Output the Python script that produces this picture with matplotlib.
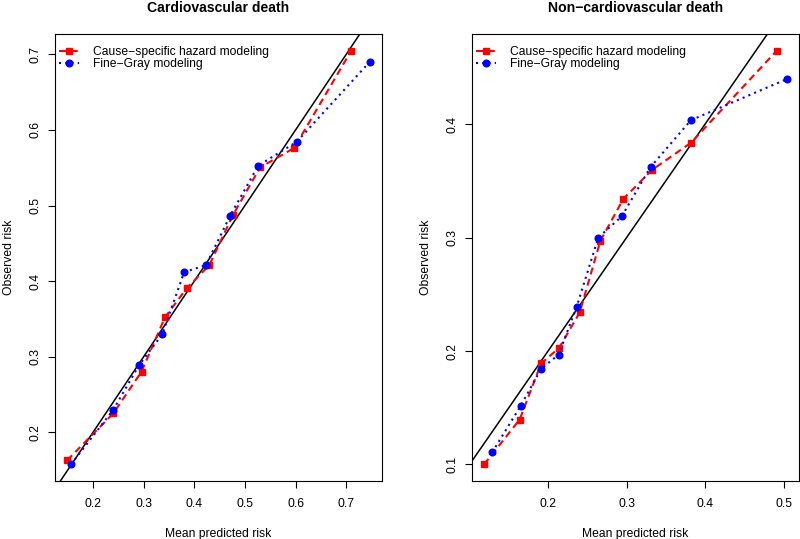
import matplotlib
matplotlib.use("Agg")
import matplotlib.pyplot as plt
import numpy as np

plt.rcParams['font.family'] = ['Liberation Sans', 'DejaVu Sans']

# Cardiovascular death
cv_cs_x = [0.149, 0.240, 0.296, 0.342, 0.3855, 0.4295, 0.476, 0.530, 0.597, 0.710]
cv_cs_y = [0.163, 0.225, 0.2805, 0.352, 0.391, 0.421, 0.487, 0.5505, 0.576, 0.705]
cv_fg_x = [0.1566, 0.240, 0.2914, 0.3368, 0.380, 0.423, 0.4704, 0.5262, 0.6026, 0.7467]
cv_fg_y = [0.1576, 0.2297, 0.2894, 0.3296, 0.412, 0.421, 0.486, 0.5527, 0.5845, 0.6903]

# Non-cardiovascular death
ncv_cs_x = [0.1185, 0.1638, 0.1911, 0.214, 0.2403, 0.2666, 0.2959, 0.3324, 0.3824, 0.4915]
ncv_cs_y = [0.100, 0.1396, 0.189, 0.2027, 0.234, 0.297, 0.3342, 0.3596, 0.3838, 0.4649]
ncv_fg_x = [0.1287, 0.1651, 0.1911, 0.2135, 0.2364, 0.264, 0.2937, 0.3306, 0.382, 0.5043]
ncv_fg_y = [0.1106, 0.1516, 0.1844, 0.1968, 0.239, 0.300, 0.3186, 0.3622, 0.4035, 0.4398]

titles = ["Cardiovascular death", "Non\u2212cardiovascular death"]
legend_labels = ["Cause\u2212specific hazard modeling", "Fine\u2212Gray modeling"]
xticks_list = [[0.2, 0.3, 0.4, 0.5, 0.6, 0.7], [0.2, 0.3, 0.4, 0.5]]
yticks_list = [[0.2, 0.3, 0.4, 0.5, 0.6, 0.7], [0.1, 0.2, 0.3, 0.4]]

W, H = 800, 539
fig = plt.figure(figsize=(W / 100, H / 100), dpi=100)

panels = [
    (cv_cs_x, cv_cs_y, cv_fg_x, cv_fg_y),
    (ncv_cs_x, ncv_cs_y, ncv_fg_x, ncv_fg_y),
]
lefts = [55, 472]
top, bottom = 34, 481
aw = 327
FS = 8.7

def padded(vals):
    lo, hi = min(vals), max(vals)
    r = hi - lo
    return lo - 0.04 * r, hi + 0.04 * r

for i, (csx, csy, fgx, fgy) in enumerate(panels):
    L = lefts[i]
    ax = fig.add_axes([L / W, 1 - bottom / H, aw / W, (bottom - top) / H])
    xlim = padded(csx + fgx)
    ylim = padded(csy + fgy)
    ax.plot([0, 1], [0, 1], color='black', lw=1.1, zorder=1)
    l1, = ax.plot(csx, csy, color='red', lw=1.5, dashes=(3.4, 2.2),
                  marker='s', ms=5.0, mec='red', mfc='red', zorder=2)
    l2, = ax.plot(fgx, fgy, color='blue', lw=1.5, dashes=(1, 2),
                  marker='o', ms=4.8, mec='blue', mfc='blue', zorder=3)
    ax.set_xlim(xlim)
    ax.set_ylim(ylim)
    ax.set_xticks(xticks_list[i])
    ax.set_yticks(yticks_list[i])
    ax.set_xticklabels([f"{v:.1f}" for v in xticks_list[i]], fontsize=FS)
    ax.set_yticklabels([f"{v:.1f}" for v in yticks_list[i]], fontsize=FS,
                       rotation=90, va='center')
    ax.tick_params(axis='both', direction='out', length=5, width=0.8)
    ax.tick_params(axis='x', pad=7)
    ax.tick_params(axis='y', pad=4.5)
    for s in ax.spines.values():
        s.set_linewidth(0.8)
    ax.legend([l1, l2], legend_labels, loc='upper left', frameon=False,
              fontsize=FS, handlelength=1.6, handletextpad=1.2,
              labelspacing=0.0, borderaxespad=0, borderpad=0.2,
              numpoints=1, bbox_to_anchor=(2 / aw, 1 - 10 / (bottom - top)))
    cx = (L + L + aw) / 2
    fig.text(cx / W, 1 - 12.5 / H, titles[i], ha='center', va='baseline',
             fontsize=10.1, fontweight='bold')
    fig.text(cx / W, 2.5 / H, "Mean predicted risk", ha='center', va='baseline',
             fontsize=FS)
    fig.text((L - 45.5) / W, 1 - ((top + bottom) / 2) / H, "Observed risk",
             ha='center', va='center', rotation=90, fontsize=FS)

fig.savefig("out.png", dpi=100)
